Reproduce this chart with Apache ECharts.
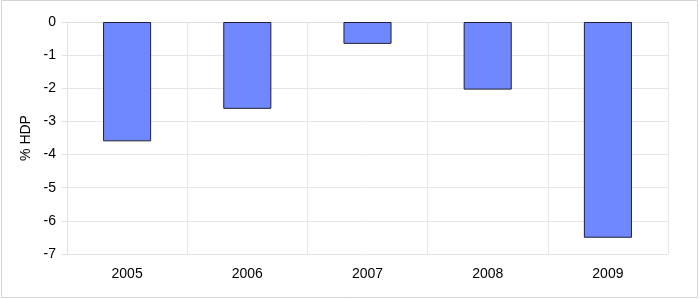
<!DOCTYPE html>
<html><head><meta charset="utf-8">
<script src="https://cdn.jsdelivr.net/npm/echarts@6/dist/echarts.min.js"></script>
<style>html,body{margin:0;padding:0;background:#fff}#c{width:700px;height:299px}</style>
</head><body><div id="c"></div>
<script>
var categories = ['2005', '2006', '2007', '2008', '2009'];
var values = [-3.6, -2.62, -0.66, -2.04, -6.51];
var yTicks = [0, -1, -2, -3, -4, -5, -6, -7];

var chart = echarts.init(document.getElementById('c'), null, {renderer: 'canvas'});
chart.setOption({
  animation: false,
  backgroundColor: '#fff',
  textStyle: {fontFamily: 'Liberation Sans, Arial, sans-serif'},
  graphic: [{
    type: 'rect', shape: {x: 1.5, y: 0.5, width: 696, height: 297},
    style: {fill: 'none', stroke: '#d4d4d4', lineWidth: 1}, silent: true
  }],
  grid: {left: 67, right: 32, top: 22, bottom: 45},
  xAxis: {
    type: 'category', data: categories, boundaryGap: true,
    axisLine: {show: true, lineStyle: {color: '#e0e0e0'}},
    axisTick: {show: true, length: 2, lineStyle: {color: '#e0e0e0'}},
    splitLine: {show: true, lineStyle: {color: '#e6e6e6'}},
    axisLabel: {color: '#000', fontSize: 14, margin: 13, fontFamily: 'Liberation Sans, Arial, sans-serif'}
  },
  yAxis: {
    type: 'value', min: yTicks[yTicks.length - 1], max: yTicks[0], interval: 1,
    name: '% HDP', nameLocation: 'middle', nameGap: 33, nameRotate: 90,
    nameTextStyle: {color: '#000', fontSize: 14, fontFamily: 'Liberation Sans, Arial, sans-serif'},
    axisLine: {show: true, lineStyle: {color: '#e0e0e0'}},
    axisTick: {show: true, length: 5, lineStyle: {color: '#e0e0e0'}},
    splitLine: {show: true, lineStyle: {color: '#e6e6e6'}},
    axisLabel: {color: '#000', fontSize: 14, margin: 11, fontFamily: 'Liberation Sans, Arial, sans-serif'}
  },
  series: [{
    type: 'bar', data: values, barWidth: '40%',
    itemStyle: {color: '#7088ff', borderColor: '#1f1f33', borderWidth: 1}
  }]
});
</script></body></html>
